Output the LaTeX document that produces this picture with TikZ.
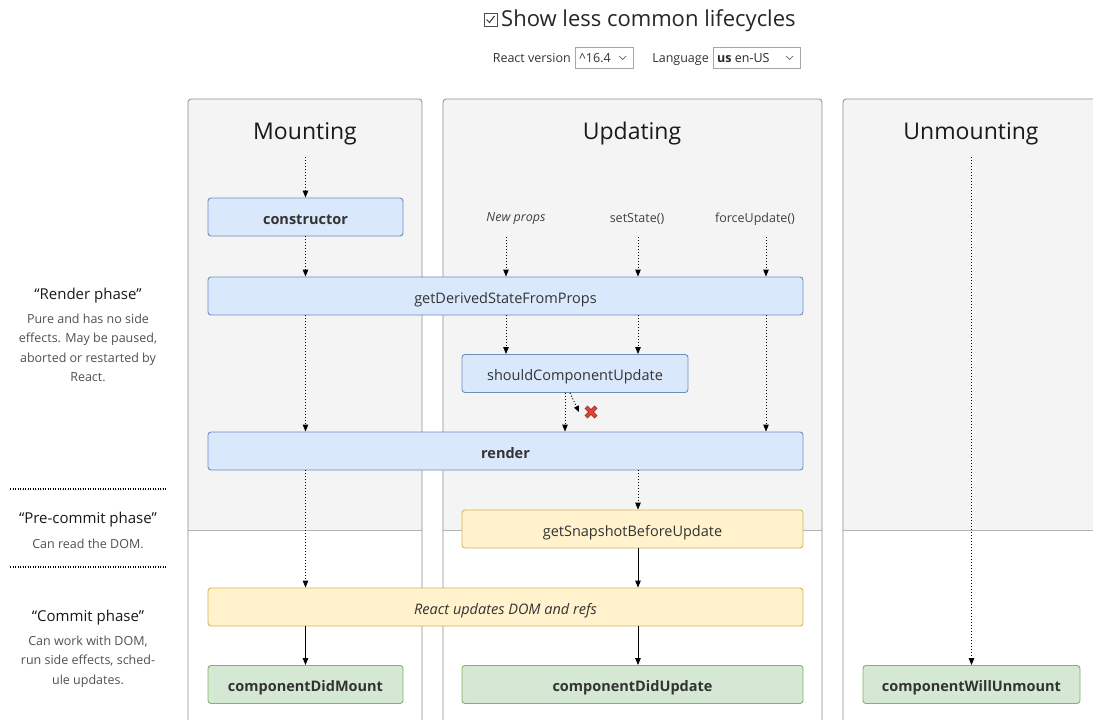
\documentclass[tikz,border=0pt]{standalone}
\usepackage{fontspec}
\setmainfont{Open Sans}
\usetikzlibrary{arrows.meta}

\definecolor{panelgray}{HTML}{F4F4F4}
\definecolor{panelline}{HTML}{8C8C8C}
\definecolor{sepgray}{HTML}{B4B4B4}
\definecolor{bluefill}{HTML}{DAE8FC}
\definecolor{blueline}{HTML}{6C8EBF}
\definecolor{yelfill}{HTML}{FFF2CC}
\definecolor{yelline}{HTML}{D6B656}
\definecolor{grnfill}{HTML}{D5E8D4}
\definecolor{grnline}{HTML}{82B366}
\definecolor{notegray}{HTML}{505050}
\definecolor{xred}{HTML}{E0453A}
\definecolor{xdark}{HTML}{9E2A22}

\begin{document}
\begin{tikzpicture}[x=1pt,y=-1pt,
  box/.style={draw,line width=0.9pt,rounded corners=3pt,minimum height=38pt,inner sep=0pt,text height=15pt,text depth=0.6pt,text=black!80,font=\fontsize{14.5}{16}\selectfont},
  bluebox/.style={box,fill=bluefill,draw=blueline},
  yellowbox/.style={box,fill=yelfill,draw=yelline},
  greenbox/.style={box,fill=grnfill,draw=grnline,bold},
  bold/.style={font=\fontsize{14.5}{16}\selectfont\bfseries},
  flow/.style={-{Triangle[length=7pt,width=5.5pt]},line width=0.9pt},
  maybe/.style={flow,dash pattern=on 1pt off 2pt},
  heading/.style={font=\fontsize{23}{26}\selectfont,text=black!90},
  trigger/.style={font=\fontsize{12.5}{15}\selectfont,text=black!75},
  phase/.style={font=\fontsize{15}{18}\selectfont,text=black!90},
  note/.style={font=\fontsize{12.5}{19.5}\selectfont,text=notegray,align=center},
  control/.style={font=\fontsize{12.5}{15}\selectfont,text=black!80,inner sep=0pt},
  frame/.style={draw=panelline,line width=0.8pt},
  dropbox/.style={draw=black!35,line width=0.7pt},
]
\useasboundingbox (0,0) rectangle (1093,720);

% panels
\fill[panelgray] (188,530) [rounded corners=3pt] -- (188,99) -- (422,99) [sharp corners] -- (422,530) -- cycle;
\fill[panelgray] (443,530) [rounded corners=3pt] -- (443,99) -- (822,99) [sharp corners] -- (822,530) -- cycle;
\fill[panelgray] (843,530) [rounded corners=3pt] -- (843,99) -- (1093,99) [sharp corners] -- (1093,530) -- cycle;
\draw[sepgray,line width=0.8pt] (188,530) -- (422,530) (443,530) -- (822,530) (843,530) -- (1093,530);
\draw[frame,rounded corners=3pt] (188,720) -- (188,99) -- (422,99) -- (422,720);
\draw[frame,rounded corners=3pt] (443,720) -- (443,99) -- (822,99) -- (822,720);
\draw[frame,rounded corners=3pt] (843,720) -- (843,99) -- (1093,99);

\node[heading] (mount) at (305,134) {Mounting};
\node[heading] (update) at (632,134) {Updating};
\node[heading] (unmount) at (971,134) {Unmounting};

% top controls
\draw[black!70,line width=0.8pt] (484,13) rectangle (497,26);
\draw[black!80,line width=1pt] (486.5,19.5) -- (489.5,22.5) -- (494.5,16);
\node[font=\fontsize{22}{26}\selectfont,text=black!85,anchor=base west,inner sep=0pt] (showless) at (501,27) {Show less common lifecycles};
\node[control,anchor=base east] (vlabel) at (571,62.5) {React version};
\draw[dropbox] (575,47) rectangle (633,68);
\node[control,anchor=base west] (vsel) at (579,62.5) {\^{}16.4};
\draw[black!60,line width=0.7pt] (619,56) -- (622.5,59.5) -- (626,56);
\node[control,anchor=base east] (llabel) at (709,62.5) {Language};
\draw[dropbox] (713,47) rectangle (800,68);
\node[control,text=black!85,anchor=base west] (lsel) at (717,62.5) {\textbf{us} en-US};
\draw[black!60,line width=0.7pt] (786,56) -- (789.5,59.5) -- (793,56);

% phases on the left
\node[phase] (rphase) at (88,296) {“Render phase”};
\node[note,anchor=north] (rnote) at (88,310) {Pure and has no side\\effects. May be paused,\\aborted or restarted by\\React.};
\draw[line width=1.3pt,dash pattern=on 1pt off 1.5pt] (10,489) -- (166,489);
\node[phase] (pphase) at (88,520) {“Pre-commit phase”};
\node[note,anchor=north] (pnote) at (88,535) {Can read the DOM.};
\draw[line width=1.3pt,dash pattern=on 1pt off 1.5pt] (10,567) -- (166,567);
\node[phase] (cphase) at (88,618) {“Commit phase”};
\node[note,anchor=north] (cnote) at (88,632) {Can work with DOM,\\run side effects, sched-\\ule updates.};

% lifecycle boxes
\node[bluebox,bold,minimum width=195pt] (ctor) at (305.5,217) {constructor};
\node[bluebox,minimum width=595pt] (gdsfp) at (505.5,296) {getDerivedStateFromProps};
\node[bluebox,minimum width=226pt] (scu) at (575,373.5) {shouldComponentUpdate};
\node[bluebox,bold,minimum width=595pt] (rend) at (505.5,451) {render};
\node[yellowbox,minimum width=341pt] (gsbu) at (632.5,529) {getSnapshotBeforeUpdate};
\node[yellowbox,minimum width=595pt,font=\fontsize{14.5}{16}\selectfont\itshape] (dom) at (505.5,607) {React updates DOM and refs};
\node[greenbox,minimum width=195pt] (cdm) at (305.5,684.5) {componentDidMount};
\node[greenbox,minimum width=341pt] (cdu) at (632.5,684.5) {componentDidUpdate};
\node[greenbox,minimum width=217pt] (cwu) at (971.5,684.5) {componentWillUnmount};

% update triggers
\node[trigger,font=\fontsize{12.5}{15}\selectfont\itshape] (props) at (516,219) {New props};
\node[trigger] (setst) at (637,219) {setState()};
\node[trigger] (force) at (755,219) {forceUpdate()};
\coordinate (cprops) at (506,237);
\coordinate (cset) at (638,237);
\coordinate (cforce) at (766,237);
\coordinate (mstart) at (305.5,157);
\coordinate (ustart) at (971.5,157);
\coordinate (cscu) at (565,393);
\coordinate (cupd) at (638,470);
\coordinate (nope) at (591,412);

% connectors
\draw[maybe] (mstart) -- (ctor);
\draw[maybe] (ctor) -- (gdsfp.north -| ctor);
\draw[maybe] (cprops) -- (gdsfp.north -| cprops);
\draw[maybe] (cset) -- (gdsfp.north -| cset);
\draw[maybe] (cforce) -- (gdsfp.north -| cforce);
\draw[maybe] (gdsfp.south -| cprops) -- (scu.north -| cprops);
\draw[maybe] (gdsfp.south -| cset) -- (scu.north -| cset);
\draw[maybe] (gdsfp.south -| ctor) -- (rend.north -| ctor);
\draw[maybe] (gdsfp.south -| cforce) -- (rend.north -| cforce);
\draw[maybe] (cscu) -- (rend.north -| cscu);
\draw[maybe,-{Triangle[length=6pt,width=5pt]}] ([xshift=5pt]cscu) -- ([xshift=-12pt]nope);
\draw[maybe] (rend.south -| ctor) -- (dom.north -| ctor);
\draw[maybe] (cupd) -- (gsbu.north -| cupd);
\draw[flow] (gsbu.south -| cupd) -- (dom.north -| cupd);
\draw[flow] (dom.south -| ctor) -- (cdm);
\draw[flow] (dom.south -| cupd) -- (cdu.north -| cupd);
\draw[maybe] (ustart) -- (cwu);

% the cross
\draw[xdark,line width=4pt] ([shift={(-5,-5)}]nope) -- ([shift={(5,5)}]nope) ([shift={(-5,5)}]nope) -- ([shift={(5,-5)}]nope);
\draw[xred,line width=2.4pt] ([shift={(-4.6,-4.6)}]nope) -- ([shift={(4.6,4.6)}]nope) ([shift={(-4.6,4.6)}]nope) -- ([shift={(4.6,-4.6)}]nope);
\end{tikzpicture}
\end{document}
